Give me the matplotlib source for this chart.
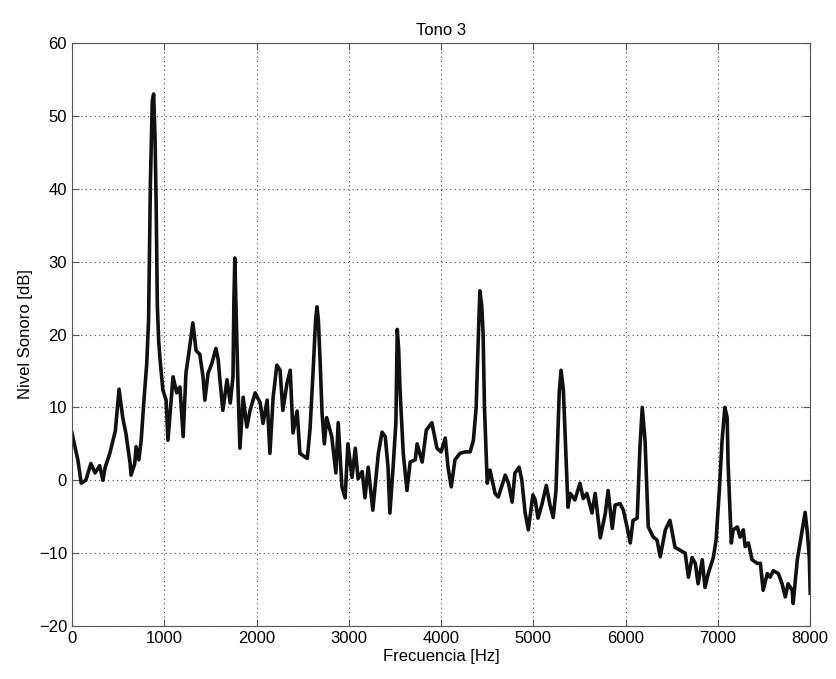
import numpy as np
import matplotlib
matplotlib.use("Agg")
import matplotlib.pyplot as plt

plt.rcParams['font.family'] = ['Liberation Sans', 'DejaVu Sans']

# espectro (frecuencia en Hz, nivel en dB)
freq = [0, 65, 100, 150, 205, 250, 300, 335, 360, 410, 470, 510, 550, 585, 630, 640,
        680, 695, 725, 750, 780, 810, 830, 850, 870, 885, 900, 912, 925, 940, 955,
        985, 1020, 1040, 1095, 1135, 1170, 1205, 1235, 1270, 1310, 1345, 1385, 1420,
        1440, 1475, 1515, 1560, 1585, 1600, 1635, 1680, 1715, 1745, 1755, 1765, 1775,
        1800, 1820, 1855, 1895, 1930, 1985, 2040, 2070, 2115, 2145, 2180, 2220, 2255,
        2285, 2330, 2365, 2395, 2440, 2470, 2525, 2550, 2580, 2615, 2640, 2655, 2670,
        2690, 2710, 2735, 2760, 2815, 2860, 2885, 2925, 2960, 2990, 3035, 3070, 3100,
        3145, 3175, 3210, 3260, 3285, 3320, 3360, 3395, 3425, 3445, 3480, 3510, 3525,
        3540, 3555, 3590, 3630, 3665, 3720, 3740, 3795, 3840, 3900, 3955, 4000, 4045,
        4075, 4110, 4150, 4205, 4260, 4315, 4350, 4380, 4400, 4420, 4440, 4455, 4470,
        4500, 4530, 4585, 4620, 4695, 4730, 4770, 4800, 4845, 4875, 4910, 4945, 4995,
        5020, 5050, 5095, 5140, 5180, 5215, 5245, 5280, 5300, 5325, 5355, 5375, 5400,
        5450, 5505, 5540, 5580, 5635, 5670, 5725, 5780, 5810, 5855, 5885, 5940, 5975,
        6015, 6050, 6080, 6125, 6155, 6180, 6210, 6245, 6300, 6340, 6375, 6430, 6480,
        6535, 6590, 6645, 6680, 6720, 6755, 6785, 6830, 6860, 6895,
        6950, 6980, 7015, 7045, 7075, 7100, 7110, 7145, 7165, 7210, 7240, 7275, 7295,
        7330, 7370, 7425, 7460, 7490, 7535, 7565, 7600, 7655, 7695, 7730, 7760, 7805,
        7815, 7860, 7900, 7925, 7945, 7970, 7990, 8000]
nivel = [6.5, 2.7, -0.4, 0, 2.3, 1, 2, 0, 1.8, 3.7, 6.8, 12.5, 8.6, 6.4, 2.3, 0.7,
         2.3, 4.6, 2.8, 5.5, 11, 16, 22, 41, 52, 53, 47, 38, 24, 19, 16.5,
         12.4, 11, 5.5, 14.2, 12, 12.8, 6, 14.7, 17.8, 21.6, 17.8, 17.3, 14.2,
         11, 14.7, 16, 18.1, 16.5, 14.2, 9.6, 13.8, 10.6, 14.2, 25, 30.5, 25,
         12.4, 4.4, 11.4, 7.3, 9.6, 12, 10.6, 7.8, 11, 3.7, 11.4, 15.8, 15.1,
         9.6, 13.3, 15.1, 6.5, 9.5, 3.7, 3.2, 3, 7.1, 15.5, 22, 23.8, 22,
         16, 9.2, 5, 8.6, 6, 1, 7.9, -0.9, -2.4, 5, 0.4, 4.4, 0.2,
         1.2, -2.4, 1.8, -4.1, -0.9, 3.7, 6.6, 6, 1.8, -4.5, 1.8, 7.9, 20.7,
         18, 12.4, 3.7, -1.4, 2.5, 2.8, 5, 2.5, 6.9, 7.9, 4.4, 3.9, 5.8,
         1.8, -0.9, 2.8, 3.7, 3.9, 3.9, 5.5, 10, 18.3, 26, 24, 20.2, 10,
         -0.4, 1.4, -1.8, -2.3, 0.7, -0.4, -3, 1, 1.8, 0, -4.4, -6.8, -2,
         -2.7, -5.2, -3.2, -0.7, -3.4, -5.1, -1.4, 12, 15.1, 12.4, 2.8, -3.7, -1.8,
         -2.7, -0.4, -2.5, -1.8, -4.5, -1.8, -7.9, -4.5, -1.4, -6.6, -3.4, -3.2, -4.1,
         -6.4, -8.6, -5.5, -5.2, 4.6, 10, 5.5, -6.4, -7.8, -8.2, -10.5, -6.8, -5.5,
         -9.2, -9.6, -10, -13.3, -10.6, -11.4, -14.2, -10.9, -14.7, -12.8,
         -10.6, -8.2, -1.4, 5.5, 10, 8.6, 2.3, -8.6, -6.8, -6.4, -7.8, -6.8, -9.1,
         -8.6, -10.9, -11.4, -11.4, -15.1, -12.8, -13.3, -12.4, -12.8, -14.2, -16, -14.2, -15.1,
         -16.9, -10.9, -7.8, -5.9, -4.4, -7.3, -10.6, -15.5]

xticks = [0, 1000, 2000, 3000, 4000, 5000, 6000, 7000, 8000]
yticks = [-20, -10, 0, 10, 20, 30, 40, 50, 60]

fig = plt.figure(figsize=(8.37, 6.79), dpi=100)
ax = fig.add_axes([0.086, 0.078, 0.882, 0.8586])

ax.plot(freq, nivel, color='#111111', linewidth=2.6)

ax.set_xlim(0, 8000)
ax.set_ylim(-20, 60)
ax.set_xticks(xticks)
ax.set_yticks(yticks)
ax.grid(True, linestyle=(0, (1, 3)), color='#444444', linewidth=0.8)
ax.tick_params(direction='in', top=True, right=True, length=5, labelsize=12,
               color='#555555')
for s in ax.spines.values():
    s.set_color('#555555')

ax.set_title('Tono 3', fontsize=12)
ax.set_xlabel('Frecuencia [Hz]', fontsize=12, labelpad=2)
ax.set_ylabel('Nivel Sonoro [dB]', fontsize=12)

fig.savefig('out.png', dpi=100)
